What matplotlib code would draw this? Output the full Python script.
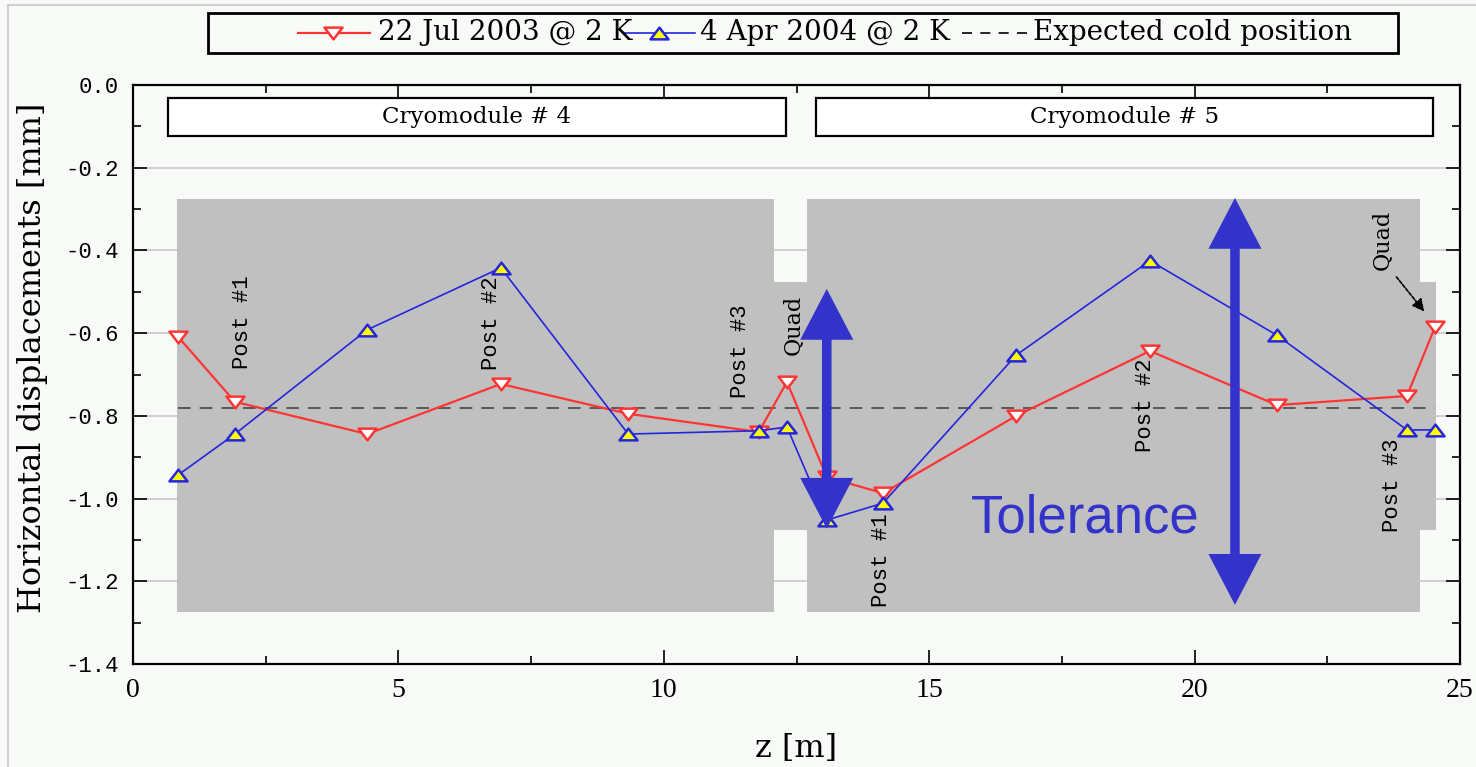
import matplotlib
matplotlib.use("Agg")
import matplotlib.pyplot as plt
from matplotlib.patches import Rectangle, Polygon
from matplotlib.lines import Line2D
from matplotlib.path import Path
from matplotlib.ticker import MultipleLocator, FormatStrFormatter

# cold mass position along the string, z [m]
z = [0.85, 1.92, 4.41, 6.93, 9.33, 11.79, 12.32, 13.07, 14.13, 16.64, 19.16, 21.55, 24.00, 24.53]
# horizontal displacement [mm] for each survey
jul2003 = [-0.609, -0.766, -0.844, -0.723, -0.795, -0.839, -0.718, -0.948, -0.987, -0.800, -0.643, -0.774, -0.752, -0.585]
apr2004 = [-0.943, -0.844, -0.592, -0.442, -0.844, -0.836, -0.827, -1.052, -1.011, -0.653, -0.425, -0.605, -0.834, -0.834]
expected_cold = -0.78

series_labels = ["22 Jul 2003 @ 2 K", "4 Apr 2004 @ 2 K", "Expected cold position"]

# cryomodule outlines (grey) and the quad stubs
module_spans = [(0.83, 12.08), (12.70, 24.25)]
module_depth = (-1.274, -0.275)
quad_spans = [(12.08, 12.70), (24.25, 24.55)]
quad_depth = (-1.076, -0.476)
module_names = ["Cryomodule # 4", "Cryomodule # 5"]
name_boxes = [(0.66, 12.30), (12.87, 24.49)]
name_depth = (-0.124, -0.031)

# component labels: text, z, y
components = [("Post #1", 2.07, -0.573), ("Post #2", 6.76, -0.575), ("Post #3", 11.45, -0.643),
              ("Post #1", 14.11, -1.148), ("Post #2", 19.07, -0.774), ("Post #3", 23.72, -0.967)]
quads = [("Quad", 12.45, -0.580), ("Quad", 23.55, -0.375)]

# tolerance arrows: z, lower end, upper end
tolerance = [(13.07, -1.073, -0.493), (20.76, -1.257, -0.273)]

RED = "#ff3535"
BLUE = "#2525dd"
ARROW = "#3333cc"
BG = "#f8faf8"

W, H = 1476, 767
fig = plt.figure(figsize=(W / 100, H / 100), dpi=100, facecolor=BG)


def fx(px):
    return px / W


def fy(py):
    return 1 - py / H


def double_arrow(x, lo, hi, shaft=0.09, head=0.5, head_len=0.123):
    # outline of a vertical arrow with a head at both ends
    pts = [(x, lo), (x + head, lo + head_len), (x + shaft, lo + head_len),
           (x + shaft, hi - head_len), (x + head, hi - head_len), (x, hi),
           (x - head, hi - head_len), (x - shaft, hi - head_len),
           (x - shaft, lo + head_len), (x - head, lo + head_len)]
    return Polygon(pts, closed=True, facecolor=ARROW, edgecolor="none", zorder=7)


ax = fig.add_axes([fx(133), fy(664), fx(1460) - fx(133), fy(85) - fy(664)])
ax.set_facecolor(BG)

tri_down = Path([(-1, 0.65), (1, 0.65), (0, -0.65), (-1, 0.65)],
                [Path.MOVETO, Path.LINETO, Path.LINETO, Path.CLOSEPOLY])
tri_up = Path([(-1, -0.65), (1, -0.65), (0, 0.65), (-1, -0.65)],
              [Path.MOVETO, Path.LINETO, Path.LINETO, Path.CLOSEPOLY])

for x0, x1 in module_spans:
    ax.add_patch(Rectangle((x0, module_depth[0]), x1 - x0, module_depth[1] - module_depth[0],
                           facecolor="#c0c0c0", edgecolor="none", zorder=1))
for x0, x1 in quad_spans:
    ax.add_patch(Rectangle((x0, quad_depth[0]), x1 - x0, quad_depth[1] - quad_depth[0],
                           facecolor="#c0c0c0", edgecolor="none", zorder=1))
for (x0, x1), name in zip(name_boxes, module_names):
    ax.add_patch(Rectangle((x0, name_depth[0]), x1 - x0, name_depth[1] - name_depth[0],
                           facecolor="white", edgecolor="black", lw=1.6, zorder=2))
    ax.text((x0 + x1) / 2, sum(name_depth) / 2, name, ha="center", va="center",
            family="DejaVu Serif", fontsize=16.5, zorder=3)

ax.plot([z[0], z[-1]], [expected_cold, expected_cold], color="#505050", lw=1.3,
        dashes=(7, 5), zorder=3)
ax.plot(z, jul2003, color=RED, lw=1.6, marker=tri_down, ms=13, mfc="white",
        mec=RED, mew=1.8, zorder=4)
ax.plot(z, apr2004, color=BLUE, lw=1.2, marker=tri_up, ms=13, mfc="#ffff00",
        mec=BLUE, mew=1.8, zorder=5)

for txt, x, y in components:
    ax.text(x, y, txt, rotation=90, ha="center", va="center",
            family="Liberation Mono", fontsize=16, zorder=6)
for txt, x, y in quads:
    ax.text(x, y, txt, rotation=90, ha="center", va="center",
            family="DejaVu Serif", fontsize=16, zorder=6)
ax.annotate("", xy=(24.36, -0.553), xytext=(23.77, -0.459),
            arrowprops=dict(arrowstyle="-|>", color="black", lw=1.2, ls=(0, (2, 1)),
                            mutation_scale=18), zorder=6)

for x, lo, hi in tolerance:
    ax.add_patch(double_arrow(x, lo, hi))
ax.text(17.94, -1.081, "Tolerance", color=ARROW, family="Liberation Sans",
        fontsize=38, ha="center", va="baseline", zorder=7)

ax.set_xlim(0, 25)
ax.set_ylim(-1.4, 0.0)
ax.xaxis.set_major_locator(MultipleLocator(5))
ax.xaxis.set_minor_locator(MultipleLocator(2.5))
ax.yaxis.set_major_locator(MultipleLocator(0.2))
ax.yaxis.set_minor_locator(MultipleLocator(0.1))
ax.yaxis.set_major_formatter(FormatStrFormatter("%.1f"))
ax.tick_params(which="both", direction="in", top=True, right=True, width=1.2)
ax.tick_params(which="major", length=10, pad=10)
ax.tick_params(which="minor", length=6)
for lab in ax.get_xticklabels():
    lab.set_fontfamily("Liberation Serif")
    lab.set_fontsize(20)
for lab in ax.get_yticklabels():
    lab.set_fontfamily("Liberation Mono")
    lab.set_fontsize(16)
ax.set_axisbelow(True)
ax.yaxis.grid(True, color="#c8c8c8", lw=1.2)
for sp in ax.spines.values():
    sp.set_linewidth(1.6)

ax.set_xlabel("z [m]", family="DejaVu Serif", fontsize=23, labelpad=22)
ax.set_ylabel("Horizontal displacements [mm]", family="DejaVu Serif", fontsize=23)
ax.yaxis.set_label_coords(-0.064, 0.528)

# legend strip above the plot
fig.add_artist(Rectangle((fx(208), fy(53)), fx(1398) - fx(208), fy(13) - fy(53),
                         transform=fig.transFigure, fill=False, ec="black", lw=2))
ly = fy(33)
fig.add_artist(Line2D([fx(298), fx(370)], [ly, ly], color=RED, lw=1.6))
fig.add_artist(Line2D([fx(333)], [ly], marker=tri_down, ms=13, mfc="white", mec=RED, mew=1.8))
fig.text(fx(378), ly, series_labels[0], va="center", family="DejaVu Serif", fontsize=20)
fig.add_artist(Line2D([fx(624), fx(695)], [ly, ly], color=BLUE, lw=1.2))
fig.add_artist(Line2D([fx(659)], [ly], marker=tri_up, ms=13, mfc="#ffff00", mec=BLUE, mew=1.8))
fig.text(fx(700), ly, series_labels[1], va="center", family="DejaVu Serif", fontsize=20)
fig.add_artist(Line2D([fx(962), fx(1030)], [ly, ly], color="black", lw=1.2, dashes=(6, 5)))
fig.text(fx(1033), ly, series_labels[2], va="center", family="DejaVu Serif", fontsize=20)

# thin frame edges
fig.add_artist(Line2D([fx(8), fx(8)], [0, fy(5)], color="#cfcfcf", lw=1.5))
fig.add_artist(Line2D([fx(8), 1], [fy(5), fy(5)], color="#cfcfcf", lw=1.5))

fig.savefig("out.png", dpi=100, facecolor=BG)
